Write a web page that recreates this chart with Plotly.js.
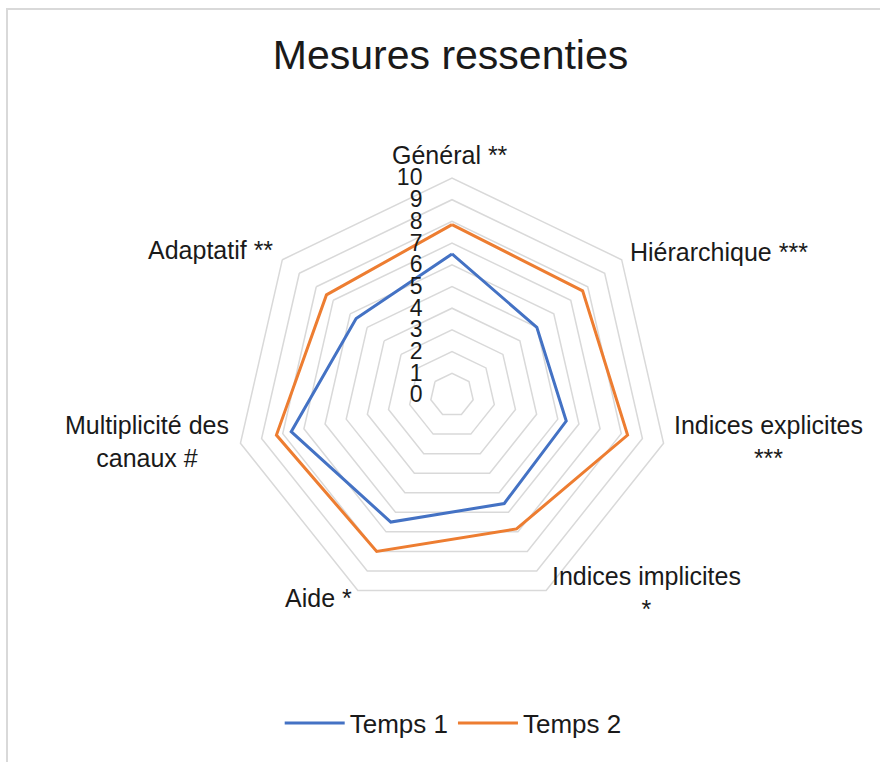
<!DOCTYPE html>
<html>
<head>
<meta charset="utf-8">
<script src="https://cdn.plot.ly/plotly-3.0.1.min.js"></script>
<style>
  html, body { margin: 0; padding: 0; background: #fff; }
  #wrap { position: relative; width: 880px; height: 762px; overflow: hidden; }
  #frame { position: absolute; left: 6px; top: 8px; width: 900px; height: 800px; border: 2px solid #d9d9d9; box-sizing: border-box; }
  #chart { position: absolute; left: 0; top: 0; width: 880px; height: 762px; }
</style>
</head>
<body>
<div id="wrap">
  <div id="frame"></div>
  <div id="chart"></div>
</div>
<script>
const categories = [
  "Général **",
  "Hiérarchique ***",
  "Indices explicites<br>***",
  "Indices implicites<br>*",
  "Aide *",
  "Multiplicité des<br>canaux #",
  "Adaptatif **"
];
const temps1 = [6.5, 5.0, 5.4, 5.55, 6.5, 7.6, 5.65];
const temps2 = [7.85, 7.7, 8.3, 6.85, 8.0, 8.3, 7.4];
const seriesNames = ["Temps 1", "Temps 2"];
const radialTicks = [0, 1, 2, 3, 4, 5, 6, 7, 8, 9, 10];

// label placement (pixel centres, layout only)
const labelPx = [
  [450, 155, "center"],
  [628, 252, "left"],
  [768, 441, "center"],
  [646, 592, "center"],
  [318, 598, "center"],
  [147, 441, "center"],
  [210, 250, "center"]
];

const W = 880, H = 762;
const closeLoop = arr => arr.concat([arr[0]]);

const traces = [
  {
    type: "scatterpolar", mode: "lines", name: seriesNames[0],
    r: closeLoop(temps1), theta: closeLoop(categories),
    line: { color: "#4472C4", width: 3 }
  },
  {
    type: "scatterpolar", mode: "lines", name: seriesNames[1],
    r: closeLoop(temps2), theta: closeLoop(categories),
    line: { color: "#ED7D31", width: 3 }
  }
];

const annotations = categories.map((c, i) => ({
  text: c,
  xref: "paper", yref: "paper",
  x: labelPx[i][0] / W, y: 1 - labelPx[i][1] / H,
  xanchor: labelPx[i][2], yanchor: "middle",
  align: "center",
  showarrow: false,
  font: { size: 25, color: "#1a1a1a" }
}));

const layout = {
  width: W, height: H,
  margin: { l: 0, r: 0, t: 0, b: 0 },
  paper_bgcolor: "rgba(0,0,0,0)",
  plot_bgcolor: "rgba(0,0,0,0)",
  font: { family: "Liberation Sans, Arial, sans-serif", color: "#1a1a1a" },
  title: {
    text: "Mesures ressenties",
    font: { size: 41, color: "#1a1a1a" },
    x: 0.512, xanchor: "center",
    y: 0.928, yanchor: "middle", yref: "container"
  },
  showlegend: true,
  legend: {
    orientation: "h", x: 0.515, xanchor: "center",
    y: 0.051, yanchor: "middle",
    font: { size: 26, color: "#1a1a1a" },
    itemwidth: 60
  },
  annotations: annotations,
  polar: {
    domain: { x: [235/W, 669/W], y: [150/H, 584/H] },
    gridshape: "linear",
    bgcolor: "rgba(0,0,0,0)",
    radialaxis: {
      range: [0, 10],
      tickvals: radialTicks,
      ticktext: radialTicks.map(String),
      angle: 90,
      side: "counterclockwise",
      showline: false,
      showgrid: true,
      gridcolor: "#d9d9d9",
      gridwidth: 1.5,
      ticks: "outside",
      ticklen: 21,
      tickcolor: "rgba(0,0,0,0)",
      tickangle: 90,
      tickfont: { size: 23, color: "#1a1a1a" }
    },
    angularaxis: {
      type: "category",
      categoryarray: categories,
      rotation: 90,
      direction: "clockwise",
      showgrid: false,
      showline: true,
      linecolor: "#d9d9d9",
      linewidth: 1.5,
      ticks: "",
      showticklabels: false
    }
  }
};

Plotly.newPlot("chart", traces, layout, { displayModeBar: false, staticPlot: true });
</script>
</body>
</html>
